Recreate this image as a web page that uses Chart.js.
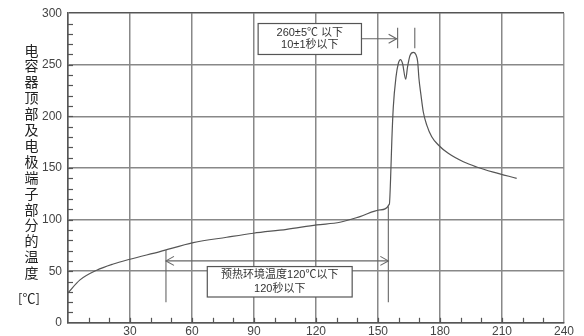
<!DOCTYPE html>
<html>
<head>
<meta charset="utf-8">
<script src="https://cdn.jsdelivr.net/npm/chart.js@4/dist/chart.umd.min.js"></script>
<style>
html,body{margin:0;padding:0;background:#fff;}
canvas{display:block;}
</style>
</head>
<body>
<canvas id="c" width="584" height="336"></canvas>
<script>
// Time (s) and temperature (°C)
const times = [0, 5.8, 13.9, 21.9, 30, 44.5, 60.6, 76.8, 89.7, 105.8, 120.3, 131.6, 141.3, 151, 155.5,
  156.1, 156.7, 157.4, 158.7, 159.8, 160.9, 161.9, 163.4, 164.3, 165.5, 167.1, 168.3, 169.2, 169.8,
  170.8, 171.9, 173.6, 176, 179.2, 184, 191.3, 197.7, 205.8, 217.1];
const temps = [29, 41.6, 51, 57, 61.6, 69, 77.7, 82.9, 86.8, 90.6, 94.8, 97.4, 102.9, 109.4, 115,
  140, 177, 209, 238, 251, 255, 251, 236, 248, 259, 262, 260, 253, 237,
  220.6, 204.5, 191.6, 180.3, 172.3, 164.2, 156, 151, 146, 140];

const yTitleChars = ['电','容','器','顶','部','及','电','极','端','子','部','分','的','温','度'];
const yUnit = '[℃]';

// Annotation values (data coordinates)
const preheatStart = 47.4, preheatEnd = 155, preheatArrowTemp = 60;
const preheatBarTop = [70.5, 113], preheatBarBottom = 20;
const preheatBox = {x0: 67.4, x1: 137.5, y0: 25, y1: 54.5};
const preheatText = ['预热环境温度120℃以下', '120秒以下'];
const peakBars = [159.5, 167.8], peakBarRange = [266, 286];
const peakArrowTemp = 275.3;
const peakBox = {x0: 92, x1: 142, y0: 260, y1: 290};
const peakText = ['260±5℃ 以下', '10±1秒以下'];

const dataPts = times.map((t, i) => ({x: t, y: temps[i]}));

function arrowHead(ctx, px, py, dir) {
  ctx.beginPath();
  ctx.moveTo(px - dir * 8, py - 4.5);
  ctx.lineTo(px, py);
  ctx.lineTo(px - dir * 8, py + 4.5);
  ctx.stroke();
}

const overlay = {
  id: 'overlay',
  afterDatasetsDraw(chart) {
    const {ctx, scales: {x, y}, chartArea: ca} = chart;
    ctx.save();
    // minor ticks, inward
    ctx.strokeStyle = '#555';
    ctx.lineWidth = 1.2;
    for (let v = 10; v < 300; v += 10) {
      const py = Math.round(y.getPixelForValue(v)) + 0.5;
      ctx.beginPath(); ctx.moveTo(ca.left, py); ctx.lineTo(ca.left + 5, py); ctx.stroke();
    }
    for (let v = 10; v < 240; v += 10) {
      const px = Math.round(x.getPixelForValue(v)) + 0.5;
      ctx.beginPath(); ctx.moveTo(px, ca.bottom); ctx.lineTo(px, ca.bottom - 5); ctx.stroke();
    }

    ctx.strokeStyle = '#666';
    ctx.lineWidth = 1.1;
    // preheat bars
    [preheatStart, preheatEnd].forEach((t, i) => {
      const px = x.getPixelForValue(t);
      ctx.beginPath();
      ctx.moveTo(px, y.getPixelForValue(preheatBarTop[i]));
      ctx.lineTo(px, y.getPixelForValue(preheatBarBottom));
      ctx.stroke();
    });
    // preheat arrow
    const ay = y.getPixelForValue(preheatArrowTemp);
    const ax0 = x.getPixelForValue(preheatStart), ax1 = x.getPixelForValue(preheatEnd);
    ctx.beginPath(); ctx.moveTo(ax0, ay); ctx.lineTo(ax1, ay); ctx.stroke();
    arrowHead(ctx, ax0, ay, -1);
    arrowHead(ctx, ax1, ay, 1);

    // peak bars
    peakBars.forEach(t => {
      const px = x.getPixelForValue(t);
      ctx.beginPath();
      ctx.moveTo(px, y.getPixelForValue(peakBarRange[1]));
      ctx.lineTo(px, y.getPixelForValue(peakBarRange[0]));
      ctx.stroke();
    });
    // peak arrow
    const py2 = y.getPixelForValue(peakArrowTemp);
    const bx1 = x.getPixelForValue(peakBox.x1), bt = x.getPixelForValue(peakBars[0]);
    ctx.beginPath(); ctx.moveTo(bx1, py2); ctx.lineTo(bt - 1, py2); ctx.stroke();
    arrowHead(ctx, bt - 1, py2, 1);

    // boxes
    function box(b, lines, dy) {
      const x0 = x.getPixelForValue(b.x0), x1 = x.getPixelForValue(b.x1);
      const y0 = y.getPixelForValue(b.y1), y1 = y.getPixelForValue(b.y0);
      ctx.fillStyle = '#fff';
      ctx.fillRect(x0, y0, x1 - x0, y1 - y0);
      ctx.strokeStyle = '#555';
      ctx.lineWidth = 1.2;
      ctx.strokeRect(x0, y0, x1 - x0, y1 - y0);
      ctx.fillStyle = '#333';
      ctx.font = "11px 'Liberation Sans', 'Noto Sans CJK SC'";
      ctx.textAlign = 'center';
      ctx.textBaseline = 'middle';
      const cx = (x0 + x1) / 2, cy = (y0 + y1) / 2;
      ctx.fillText(lines[0], cx, cy - dy);
      ctx.fillText(lines[1], cx, cy + dy);
    }
    box(preheatBox, preheatText, 7);
    box(peakBox, peakText, 6);

    // y title
    ctx.fillStyle = '#222';
    ctx.font = "14px 'Noto Sans CJK SC'";
    ctx.textAlign = 'center';
    ctx.textBaseline = 'middle';
    yTitleChars.forEach((ch, i) => {
      ctx.fillText(ch, 31.5, ca.top + 37 + i * 15.9);
    });
    ctx.font = "13px 'Noto Sans CJK SC'";
    ctx.fillText(yUnit, 29, ca.top + 285);
    ctx.restore();
  }
};

new Chart(document.getElementById('c'), {
  type: 'scatter',
  data: {
    datasets: [{
      data: dataPts,
      showLine: true,
      borderColor: '#555',
      borderWidth: 1.2,
      pointRadius: 0,
      cubicInterpolationMode: 'monotone',
      fill: false
    }]
  },
  options: {
    responsive: false,
    animation: false,
    devicePixelRatio: 1,
    layout: {padding: {top: 13, right: 20, left: 0, bottom: 0}},
    plugins: {legend: {display: false}, tooltip: {enabled: false}},
    scales: {
      x: {
        type: 'linear', min: 0, max: 240,
        grid: {
          color: ctx => ctx.tick && ctx.tick.value === 240 ? '#999' : '#888',
          lineWidth: 1.5, drawTicks: false
        },
        border: {color: '#555', width: 1.5},
        ticks: {
          stepSize: 30, padding: 2, color: '#444',
          font: {family: "'Liberation Sans', Arial", size: 12},
          maxRotation: 0,
          callback: v => v === 0 ? '' : v
        },
        afterFit: s => { s.height = 13; }
      },
      y: {
        min: 0, max: 300,
        grid: {
          color: ctx => ctx.tick && ctx.tick.value === 300 ? '#555' : '#888',
          lineWidth: 1.5, drawTicks: false
        },
        border: {color: '#555', width: 1.5},
        ticks: {
          stepSize: 50, padding: 6, color: '#444',
          font: {family: "'Liberation Sans', Arial", size: 12}
        },
        afterFit: s => { s.width = 68; }
      }
    }
  },
  plugins: [overlay]
});
</script>
</body>
</html>
